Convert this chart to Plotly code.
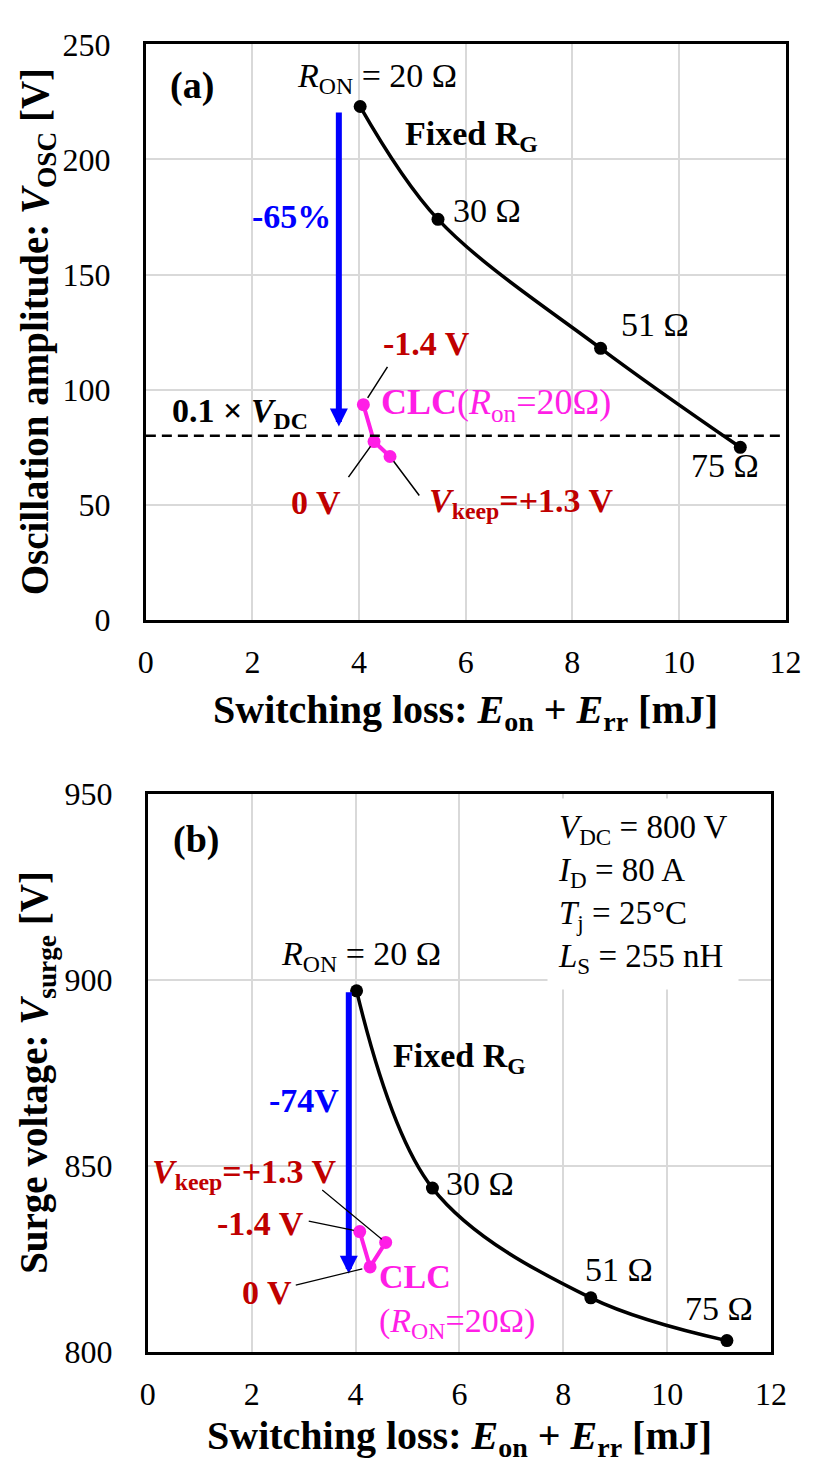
import plotly.graph_objects as go

# ---------------- data ----------------
# Fixed gate resistance sweep (R_ON = 20, 30, 51, 75 ohm)
rg_labels = ["20", "30", "51", "75"]
loss_fixed = [4.02, 5.48, 8.53, 11.15]          # E_on + E_rr [mJ]
vosc_fixed = [223, 174, 118, 75]                # oscillation amplitude [V]
vsurge_fixed = [897, 844, 814.5, 803]           # surge voltage [V]

# CLC operation (R_on = 20 ohm), V_keep = -1.4 V, 0 V, +1.3 V
vkeep_labels = ["-1.4 V", "0 V", "+1.3 V"]
loss_clc = [4.08, 4.28, 4.58]
vosc_clc = [93.5, 77.5, 71]
vsurge_clc = [832.3, 822.8, 829.4]

VDC = 800
osc_limit = 0.1 * VDC

x_ticks = [0, 2, 4, 6, 8, 10, 12]
ya_ticks = [0, 50, 100, 150, 200, 250]
yb_ticks = [800, 850, 900, 950]

# ---------------- style ----------------
FONT = "Liberation Serif"
BLACK = "#000000"
MAGENTA = "#ff1ee6"
DARKRED = "#c00000"
BLUE = "#0000ff"
GRID = "#d9d9d9"

W, H = 822, 1481
fig = go.Figure()

# fixed-R_G curves
fig.add_trace(go.Scatter(x=loss_fixed, y=vosc_fixed, mode="lines+markers",
                         line=dict(color=BLACK, width=3.5, shape="spline", smoothing=1.0),
                         marker=dict(color=BLACK, size=13), xaxis="x", yaxis="y",
                         showlegend=False))
fig.add_trace(go.Scatter(x=loss_fixed, y=vsurge_fixed, mode="lines+markers",
                         line=dict(color=BLACK, width=3.5, shape="spline", smoothing=1.0),
                         marker=dict(color=BLACK, size=13), xaxis="x2", yaxis="y2",
                         showlegend=False))
# CLC points
fig.add_trace(go.Scatter(x=loss_clc, y=vosc_clc, mode="lines+markers",
                         line=dict(color=MAGENTA, width=4),
                         marker=dict(color=MAGENTA, size=13), xaxis="x", yaxis="y",
                         showlegend=False))
fig.add_trace(go.Scatter(x=loss_clc, y=vsurge_clc, mode="lines+markers",
                         line=dict(color=MAGENTA, width=4),
                         marker=dict(color=MAGENTA, size=13), xaxis="x2", yaxis="y2",
                         showlegend=False))

# 0.1 x V_DC threshold line
fig.add_shape(type="line", xref="x domain", yref="y", x0=0, x1=1, y0=osc_limit, y1=osc_limit,
              line=dict(color=BLACK, width=2.5, dash="10px,6px"))


def axis_common(dom, anchor, rng, tickvals, standoff):
    return dict(domain=dom, anchor=anchor, range=rng, tickvals=tickvals,
                showline=True, linecolor=BLACK, linewidth=3, mirror=True,
                showgrid=True, gridcolor=GRID, gridwidth=2, zeroline=False,
                ticks="", ticklabelstandoff=standoff,
                tickfont=dict(family=FONT, size=32, color=BLACK), fixedrange=True)


fig.update_layout(
    width=W, height=H, autosize=False,
    margin=dict(l=0, r=0, t=0, b=0),
    paper_bgcolor="white", plot_bgcolor="white",
    font=dict(family=FONT, color=BLACK),
    xaxis=axis_common([142 / W, 801 / W], "y", [0, 12], x_ticks, 12),
    yaxis=axis_common([1 - 617 / H, 1 - 27 / H], "x", [0, 250], ya_ticks, 26),
    xaxis2=axis_common([144 / W, 786 / W], "y2", [0, 12], x_ticks, 12),
    yaxis2=axis_common([1 - 1367 / H, 1 - 795 / H], "x2", [800, 950], yb_ticks, 26),
)

ann = []


def txt(text, x, y, xr="x", yr="y", size=34, color=BLACK, xanchor="center", **kw):
    ann.append(dict(text=text, x=x, y=y, xref=xr, yref=yr, showarrow=False,
                    xanchor=xanchor, yanchor="middle",
                    font=dict(family=FONT, size=size, color=color), **kw))


def leader(x, y, ax, ay, xr="x", yr="y", width=1.5, standoff=7):
    ann.append(dict(text="", x=x, y=y, ax=ax, ay=ay, xref=xr, yref=yr,
                    axref=xr, ayref=yr, showarrow=True, arrowhead=0,
                    arrowwidth=width, arrowcolor=BLACK, standoff=standoff))


def down_arrow(x, y_top, y_tip, xr, yr):
    ann.append(dict(text="", x=x, y=y_tip, ax=x, ay=y_top, xref=xr, yref=yr,
                    axref=xr, ayref=yr, showarrow=True, arrowhead=2,
                    arrowsize=0.6, arrowwidth=6, arrowcolor=BLUE))


# ---- panel (a) ----
txt("<b>(a)</b>", 0.87, 232, size=38)
txt("<i>R</i><sub>ON</sub> = 20 Ω", 4.33, 235.6)
txt("<b>Fixed R<sub>G</sub></b>", 6.1, 210)
txt(f"{rg_labels[1]} Ω", 5.72, 178, xanchor="left")
txt(f"{rg_labels[2]} Ω", 9.55, 128.4)
txt(f"{rg_labels[3]} Ω", 10.87, 67)
down_arrow(3.62, 221, 84, "x", "y")
txt("<b>-65%</b>", 2.73, 175.4, color=BLUE)
txt("<b>0.1 × <i>V</i><sub>DC</sub></b>", 0.45, 90, xanchor="left")
txt("<b>CLC</b>(<i>R</i><sub>on</sub>=20Ω)", 4.38, 93.4, color=MAGENTA, size=36,
    xanchor="left")
txt(f"<b>{vkeep_labels[0]}</b>", 5.27, 120, color=DARKRED)
txt(f"<b>{vkeep_labels[1]}</b>", 3.2, 51, color=DARKRED)
txt(f"<b><i>V</i><sub>keep</sub>={vkeep_labels[2]}</b>", 5.27, 50.8, color=DARKRED,
    xanchor="left")
leader(loss_clc[0], vosc_clc[0], 4.55, 110.6, standoff=8)
leader(loss_clc[1], vosc_clc[1], 3.78, 61.4, standoff=6)
leader(loss_clc[2], vosc_clc[2], 5.15, 53.4, standoff=6)

# ---- panel (b) ----
txt("<b>(b)</b>", 0.92, 937.8, "x2", "y2", size=38)
txt("<i>V</i><sub>DC</sub> = 800 V<br><i>I</i><sub>D</sub> = 80 A<br>"
    "<i>T</i><sub>j</sub> = 25°C<br><i>L</i><sub>S</sub> = 255 nH",
    7.68, 923, "x2", "y2", size=33, xanchor="left", align="left",
    bgcolor="white", borderpad=10)
txt("<i>R</i><sub>ON</sub> = 20 Ω", 4.1, 906.3, "x2", "y2")
txt("<b>Fixed R<sub>G</sub></b>", 6.0, 879, "x2", "y2")
txt(f"{rg_labels[1]} Ω", 5.7, 845.3, "x2", "y2", xanchor="left")
txt(f"{rg_labels[2]} Ω", 9.08, 822, "x2", "y2")
txt(f"{rg_labels[3]} Ω", 11.0, 811.5, "x2", "y2")
down_arrow(3.87, 897, 821, "x2", "y2")
txt("<b>-74V</b>", 3.0, 867.5, "x2", "y2", color=BLUE)
txt(f"<b><i>V</i><sub>keep</sub>={vkeep_labels[2]}</b>", 1.85, 847.8, "x2", "y2",
    color=DARKRED)
txt(f"<b>{vkeep_labels[0]}</b>", 2.17, 834.4, "x2", "y2", color=DARKRED)
txt(f"<b>{vkeep_labels[1]}</b>", 2.3, 816, "x2", "y2", color=DARKRED)
txt("<b>CLC</b><br>(<i>R</i><sub>ON</sub>=20Ω)", 4.41, 813.6, "x2", "y2",
    color=MAGENTA, xanchor="left", align="left")
leader(loss_clc[0], vsurge_clc[0], 3.07, 835.2, "x2", "y2", width=1.2, standoff=6)
leader(loss_clc[1], vsurge_clc[1], 2.82, 817.8, "x2", "y2", width=1.2, standoff=8)
leader(loss_clc[2], vsurge_clc[2], 3.33, 843.8, "x2", "y2", width=1.2, standoff=5)

# ---- axis titles ----
xtitle = "<b>Switching loss: <i>E</i><sub>on</sub> + <i>E</i><sub>rr</sub> [mJ]</b>"
txt(xtitle, 0.5 * (142 + 801) / W, 1 - 711 / H, "paper", "paper", size=40)
txt(xtitle, 0.5 * (144 + 786) / W, 1 - 1455 / H, "paper", "paper", size=40)
txt("<b>Oscillation amplitude: <i>V</i><sub>OSC</sub> [V]</b>", 30 / W, 1 - 322 / H,
    "paper", "paper", size=39, textangle=-90)
txt("<b>Surge voltage: <i>V</i><sub>surge</sub> [V]</b>", 30 / W, 1 - 1081 / H,
    "paper", "paper", size=39, textangle=-90)

fig.update_layout(annotations=ann)
fig.write_html("out.html")
